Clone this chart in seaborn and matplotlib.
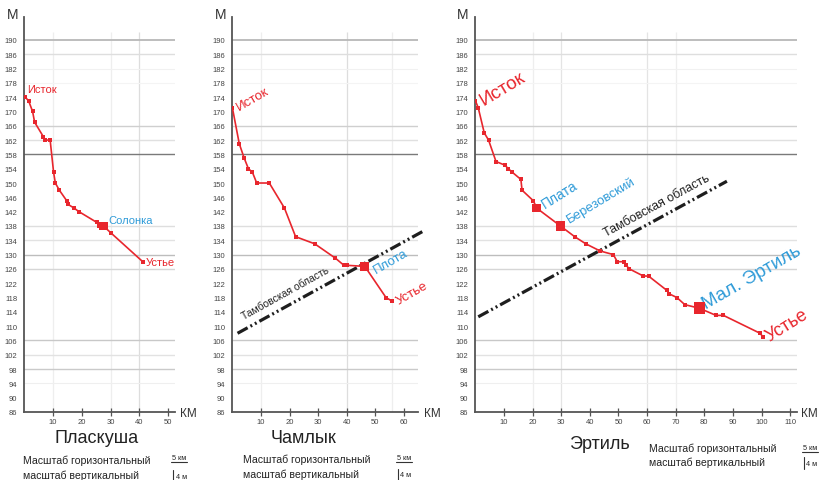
import matplotlib
matplotlib.use("Agg")
import matplotlib.pyplot as plt
import seaborn as sns
from matplotlib.lines import Line2D

sns.set_theme(style="white")
plt.rcParams['font.family'] = ['Liberation Sans', 'DejaVu Sans']

# ---------------- data ----------------
plaskusha_km = [0.3, 1.5, 2.9, 3.6, 6.6, 7.2, 9.0, 10.2, 10.8, 12.2, 14.8, 15.3,
                17.3, 19.0, 25.2, 26.0, 27.5, 30.2, 41.2]
plaskusha_m = [174, 173, 170, 167, 163, 162, 162, 153, 150, 148, 145, 144,
               143, 142, 139, 138, 138, 136, 128]
plaskusha_trib_km = [27.5]
plaskusha_trib_m = [138]

chamlyk_km = [0.0, 2.4, 4.1, 5.6, 7.0, 8.5, 12.9, 18.2, 22.1, 28.8, 36.0, 39.0,
              40.0, 46.3, 53.7, 55.8]
chamlyk_m = [171, 161, 157, 154, 153, 150, 150, 143, 135, 133, 129, 127,
             127, 126.7, 118, 117]
chamlyk_trib_km = [46.3]
chamlyk_trib_m = [126.7]
chamlyk_border_km = [1.8, 67.3]
chamlyk_border_m = [108.0, 136.8]

ertil_km = [0.0, 1.0, 3.1, 4.6, 7.2, 10.3, 11.5, 12.9, 15.9, 16.3, 20.3, 21.4,
            29.7, 34.7, 38.6, 43.6, 48.2, 49.6, 52.1, 52.7, 53.8, 58.7, 60.5,
            66.9, 67.8, 70.4, 73.2, 78.3, 84.1, 86.7, 99.5, 100.5]
ertil_m = [173, 171, 164, 162, 156, 155, 154, 153, 151, 148, 145, 143,
           138, 135, 133, 131, 130, 128, 128, 127, 126, 124, 124,
           120, 119, 118, 116, 115, 113, 113, 108, 107]
ertil_trib_km = [21.4, 29.7, 78.3]
ertil_trib_m = [143, 138, 115]
ertil_border_km = [1.0, 87.9]
ertil_border_m = [112.6, 150.5]

y_ticks = list(range(86, 191, 4))
plaskusha_xticks = [10, 20, 30, 40, 50]
chamlyk_xticks = [10, 20, 30, 40, 50, 60]
ertil_xticks = [10, 20, 30, 40, 50, 60, 70, 80, 90, 100, 110]

# ---------------- style ----------------
RED = '#e8262d'
BLUE = '#2f9bd8'
SPINE = '#555555'
W, H = 819, 481

hgrid = [(190, '#b8b8b8', 1.3), (186, '#dedede', 1.0), (182, '#f1f1f1', 0.8),
         (178, '#f4f4f4', 0.8), (166, '#cfcfcf', 1.0), (162, '#e0e0e0', 1.0),
         (158, '#7a7a7a', 1.0), (138, '#dedede', 1.0), (134, '#e2e2e2', 1.0),
         (130, '#bdbdbd', 1.0), (126, '#d6d6d6', 1.0), (106, '#c8c8c8', 1.0),
         (102, '#e2e2e2', 1.0), (98, '#cacaca', 1.0), (94, '#efefef', 0.8)]

fig = plt.figure(figsize=(W / 100, H / 100), dpi=100)


def fx(x):
    return x / W


def fy(y):
    return 1 - y / H


def make_axes(x0, x1, xmax, xticks, vgrid):
    ax = fig.add_axes([fx(x0), fy(413), (x1 - x0) / W, (413 - 18) / H])
    ax.set_xlim(0, xmax)
    ax.set_ylim(86, 196.4)
    for val, col, lw in hgrid:
        ax.axhline(val, color=col, lw=lw, zorder=0.5)
    for val, col in vgrid:
        ax.vlines(val, 86, 192.2, color=col, lw=0.9, zorder=0.4)
    ax.set_yticks(y_ticks)
    ax.set_xticks(xticks)
    ax.tick_params(axis='y', length=0, pad=5, labelsize=5.5, labelcolor='#444444')
    ax.tick_params(axis='x', direction='inout', length=6, width=0.9,
                   color=SPINE, pad=1.5, labelsize=5.5, labelcolor='#444444',
                   bottom=True)
    for s in ['top', 'right']:
        ax.spines[s].set_visible(False)
    for s in ['left', 'bottom']:
        ax.spines[s].set_color(SPINE)
        ax.spines[s].set_linewidth(1.3)
        ax.spines[s].set_zorder(3)
    ax.set_xlabel('')
    ax.set_ylabel('')
    return ax


def draw_river(ax, km, m, tkm, tm, tsize):
    sns.lineplot(x=km, y=m, ax=ax, sort=False, estimator=None, color=RED,
                 lw=1.2, marker='s', markersize=2.6, markeredgewidth=0, zorder=4)
    sns.scatterplot(x=tkm, y=tm, ax=ax, marker='s', s=tsize, color=RED,
                    edgecolor='none', linewidth=0, zorder=5, legend=False)


def draw_border(ax, km, m):
    ax.plot(km, m, color='#1e1e1e', lw=2.3, clip_on=False, zorder=3.5,
            linestyle=(0, (3.6, 1.0, 0.6, 1.0, 0.6, 1.0)), dash_capstyle='butt')


# ---- left: Пласкуша ----
ax1 = make_axes(24.25, 175, 52.4, plaskusha_xticks,
                [(10, '#eeeeee'), (30, '#eeeeee'), (40, '#dddddd')])
draw_river(ax1, plaskusha_km, plaskusha_m, plaskusha_trib_km, plaskusha_trib_m, 40)
ax1.text(1.0, 176.3, 'Исток', color=RED, fontsize=8, ha='left', va='center')
ax1.text(29.1, 139.7, 'Солонка', color=BLUE, fontsize=8, ha='left', va='center')
ax1.text(42.3, 127.9, 'Устье', color=RED, fontsize=8, ha='left', va='center')

# ---- middle: Чамлык ----
ax2 = make_axes(232.4, 418, 64.9, chamlyk_xticks,
                [(10, '#eeeeee'), (40, '#dddddd'), (55.7, '#eeeeee')])
draw_border(ax2, chamlyk_border_km, chamlyk_border_m)
draw_river(ax2, chamlyk_km, chamlyk_m, chamlyk_trib_km, chamlyk_trib_m, 40)
ax2.text(7.2, 173.5, 'Исток', color=RED, fontsize=9.5, ha='center', va='center', rotation=30)
ax2.text(18.7, 119.3, 'Тамбовская область', color='#222222', fontsize=7.5,
         ha='center', va='center', rotation=29)
ax2.text(55.4, 128.2, 'Плота', color=BLUE, fontsize=9.5, ha='center', va='center', rotation=30)
ax2.text(62.8, 119.3, 'Устье', color=RED, fontsize=9.5, ha='center', va='center',
         rotation=30, clip_on=False)

# ---- right: Эртиль ----
ax3 = make_axes(475.4, 797, 112.4, ertil_xticks,
                [(20, '#eeeeee'), (30, '#e4e4e4'), (60, '#e4e4e4'), (70, '#eeeeee')])
draw_border(ax3, ertil_border_km, ertil_border_m)
draw_river(ax3, ertil_km, ertil_m, [ertil_trib_km[0]], [ertil_trib_m[0]], 36)
sns.scatterplot(x=[ertil_trib_km[1]], y=[ertil_trib_m[1]], ax=ax3, marker='s', s=44,
                color=RED, edgecolor='none', linewidth=0, zorder=5, legend=False)
sns.scatterplot(x=[ertil_trib_km[2]], y=[ertil_trib_m[2]], ax=ax3, marker='s', s=70,
                color=RED, edgecolor='none', linewidth=0, zorder=5, legend=False)
ax3.text(9.3, 176.6, 'Исток', color=RED, fontsize=13.5, ha='center', va='center', rotation=31)
ax3.text(29.6, 146.9, 'Плата', color=BLUE, fontsize=10, ha='center', va='center', rotation=32)
ax3.text(43.9, 145.3, 'Березовский', color=BLUE, fontsize=9.5, ha='center', va='center', rotation=31)
ax3.text(63.4, 143.8, 'Тамбовская область', color='#222222', fontsize=9,
         ha='center', va='center', rotation=28.5)
ax3.text(96.7, 123.7, 'Мал. Эртиль', color=BLUE, fontsize=13.5, ha='center', va='center',
         rotation=30)
ax3.text(108.9, 110.3, 'Устье', color=RED, fontsize=13, ha='center', va='center',
         rotation=32, clip_on=False)

# ---- axis unit labels ----
for x in (13, 220.5, 463):
    fig.text(fx(x), fy(15), 'М', fontsize=10, ha='center', va='center', color='#333333')
for x in (180, 424, 801):
    fig.text(fx(x), fy(414), 'КМ', fontsize=8.5, ha='left', va='center', color='#333333')

# ---- titles and scale notes ----
titles = [('Пласкуша', 97, 439), ('Чамлык', 304, 439), ('Эртиль', 599, 445)]
for t, x, y in titles:
    fig.text(fx(x), fy(y), t, fontsize=13, ha='center', va='center', color='#222222')

notes = [(23, 461, 476, 172, 458), (243, 460, 474.5, 397, 458), (649, 449, 463, 803, 448)]
for x, y1, y2, sx, sy in notes:
    fig.text(fx(x), fy(y1), 'Масштаб горизонтальный', fontsize=7.6, ha='left',
             va='center', color='#222222')
    fig.text(fx(x), fy(y2), 'масштаб вертикальный', fontsize=7.6, ha='left',
             va='center', color='#222222')
    fig.text(fx(sx), fy(sy), '5 км', fontsize=5.2, ha='left', va='center', color='#222222')
    fig.add_artist(Line2D([fx(sx - 1), fx(sx + 15)], [fy(sy + 5), fy(sy + 5)],
                          color='#333333', lw=0.8))
    fig.add_artist(Line2D([fx(sx + 1), fx(sx + 1)], [fy(y2 - 5), fy(y2 + 7)],
                          color='#333333', lw=0.8))
    fig.text(fx(sx + 3.5), fy(y2 + 1.5), '4 м', fontsize=5.2, ha='left', va='center',
             color='#222222')

fig.savefig('out.png', dpi=100, facecolor='white')
